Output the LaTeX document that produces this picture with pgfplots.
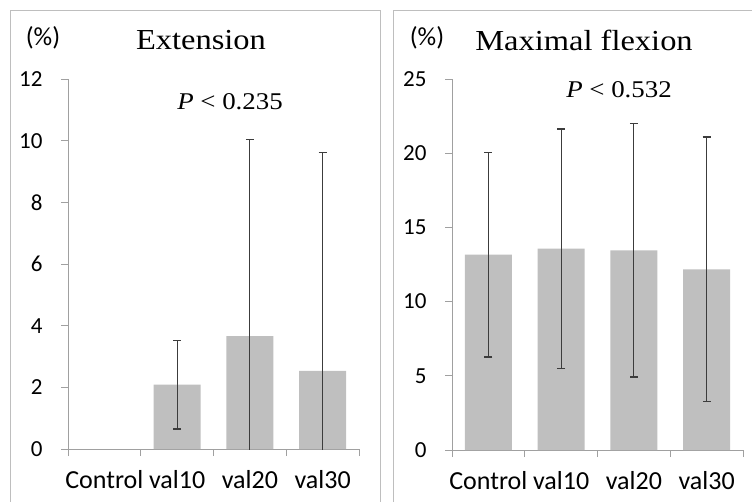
\documentclass[border=0pt]{standalone}
\usepackage{fontspec}
\setmainfont{Liberation Serif}
\newfontfamily\calfont{Carlito}
\newfontfamily\titlefont[FakeStretch=1.12]{Liberation Serif}
\usepackage{pgfplots}
\pgfplotsset{compat=1.18}
\definecolor{bargray}{RGB}{191,191,191}
\definecolor{axgray}{RGB}{160,160,160}
\definecolor{errgray}{RGB}{60,60,60}
\definecolor{boxgray}{RGB}{190,190,190}

\pgfplotsset{
  panel/.style={
    scale only axis,
    width=291pt,
    anchor=south west,
    axis x line=bottom, axis y line=left,
    axis line style={-, draw=axgray, line width=1pt},
    tick style={draw=axgray, line width=1pt},
    tick align=outside,
    major tick length=7pt,
    xmin=-0.5, xmax=3.5,
    xtick={-0.5,0.5,1.5,2.5,3.5},
    x tick label as interval,
    xticklabels={Control,val10,val20,val30},
    ymin=0,
    y tick label style={font=\calfont\fontsize{23}{27}\selectfont, text=black, xshift=-15pt},
    x tick label style={font=\calfont\fontsize{26}{30}\selectfont, text=black, yshift=-11pt},
    /pgf/number format/assume math mode=true,
    ybar, bar width=47pt,
    clip=true,
  },
  errbar/.style={
    fill=bargray, draw=none,
    error bars/.cd, y dir=both, y explicit,
    error bar style={line width=1.1pt, draw=errgray},
    error mark options={rotate=90, mark size=4pt, line width=1.1pt, draw=errgray},
  },
}

\begin{document}
\begin{tikzpicture}
\useasboundingbox (0,0) rectangle (752pt,-501pt);
% panel frames
\draw[boxgray, line width=1pt] (10pt,-520pt) -- (10pt,-10pt) -- (380pt,-10pt) -- (380pt,-520pt);
\draw[boxgray, line width=1pt] (393pt,-520pt) -- (393pt,-10pt) -- (770pt,-10pt);

% left panel: Extension
\begin{axis}[panel, at={(68pt,-449pt)}, height=370pt,
  ymax=12, ytick={0,2,4,6,8,10,12}]
\addplot[errbar] coordinates {
  (1,2.09) +- (0,1.44)
  (2,3.66) +- (0,6.37)
  (3,2.53) +- (0,7.10)
};
\end{axis}

% right panel: Maximal flexion
\begin{axis}[panel, at={(452pt,-450pt)}, height=371pt,
  ymax=25, ytick={0,5,10,15,20,25}]
\addplot[errbar] coordinates {
  (0,13.17) +- (0,6.90)
  (1,13.57) +- (0,8.06)
  (2,13.46) +- (0,8.54)
  (3,12.17) +- (0,8.92)
};
\end{axis}

\node[font=\calfont\fontsize{26}{30}\selectfont] at (43pt,-38pt) {(\%)};
\node[font=\titlefont\fontsize{29}{33}\selectfont] at (201pt,-40pt) {Extension};
\node[font=\titlefont\fontsize{24}{28}\selectfont] at (230pt,-102pt) {\textit{P} < 0.235};

\node[font=\calfont\fontsize{26}{30}\selectfont] at (427pt,-38pt) {(\%)};
\node[font=\titlefont\fontsize{29}{33}\selectfont] at (584pt,-40pt) {Maximal flexion};
\node[font=\titlefont\fontsize{24}{28}\selectfont] at (619pt,-90pt) {\textit{P} < 0.532};
\end{tikzpicture}
\end{document}
